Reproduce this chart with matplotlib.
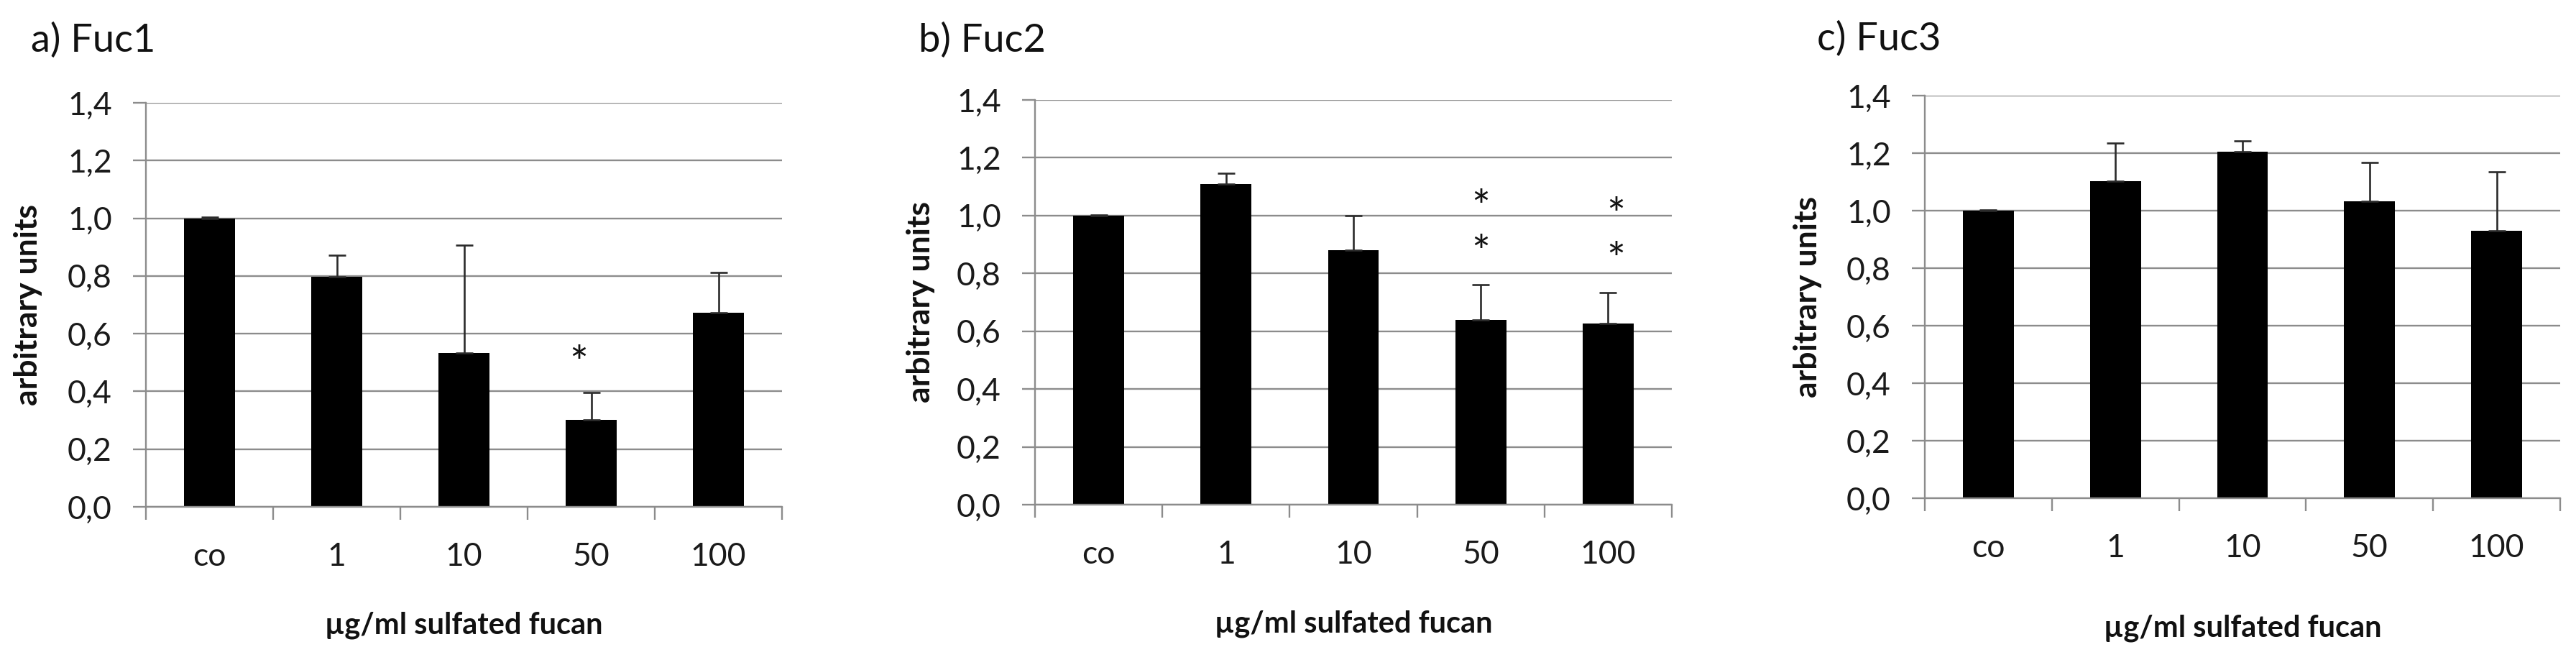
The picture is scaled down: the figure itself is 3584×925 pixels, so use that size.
import matplotlib
matplotlib.use('Agg')
import matplotlib.pyplot as plt
import numpy as np

# ---------------- data ----------------
categories = ['co', '1', '10', '50', '100']
titles = ['a) Fuc1', 'b) Fuc2', 'c) Fuc3']

fuc1_mean = [1.000, 0.797, 0.532, 0.301, 0.672]
fuc1_err = [0.003, 0.076, 0.374, 0.096, 0.140]

fuc2_mean = [1.000, 1.109, 0.881, 0.638, 0.626]
fuc2_err = [0.003, 0.038, 0.119, 0.123, 0.108]

fuc3_mean = [1.000, 1.103, 1.204, 1.032, 0.931]
fuc3_err = [0.003, 0.132, 0.038, 0.135, 0.205]

# significance asterisks: (category index, y value)
fuc1_sig = [(3, 0.53)]
fuc2_sig = [(3, 1.059), (3, 0.903), (4, 1.034), (4, 0.878)]
fuc3_sig = []

ytick_values = [0.0, 0.2, 0.4, 0.6, 0.8, 1.0, 1.2, 1.4]
ytick_labels = ['0,0', '0,2', '0,4', '0,6', '0,8', '1,0', '1,2', '1,4']
ylabel_text = 'arbitrary units'
xlabel_text = 'µg/ml sulfated fucan'

means = [fuc1_mean, fuc2_mean, fuc3_mean]
errs = [fuc1_err, fuc2_err, fuc3_err]
sigs = [fuc1_sig, fuc2_sig, fuc3_sig]

# ---------------- layout (pixels) ----------------
W, H = 3584, 925
axes_px = [(203, 143, 1088, 705), (1440, 139, 2326, 702), (2678, 133, 3562, 693)]
title_px = [(43, 72), (1278, 72), (2528, 70)]
ylabel_x = [39, 1281, 2515]
xlabel_y = [870, 868, 874]
sig_dx = [[-0.10], [0.0, 0.0, 0.06, 0.06], []]

FONT = 'Lato'
GRID = '#8c8c8c'
plt.rcParams['font.family'] = [FONT, 'DejaVu Sans']

fig = plt.figure(figsize=(W / 100, H / 100), dpi=100)

x = np.arange(len(categories))
for i in range(3):
    l, t, r, b = axes_px[i]
    ax = fig.add_axes([l / W, 1 - b / H, (r - l) / W, (b - t) / H])
    ax.set_axisbelow(True)
    ax.bar(x, means[i], width=0.40, color='black', edgecolor='none', zorder=2)
    ax.errorbar(x, means[i], yerr=[np.zeros(len(x)), errs[i]], fmt='none',
                ecolor='#2b2b2b', elinewidth=1.9, capsize=8.5, capthick=1.9, zorder=3)
    for k, (ci, yv) in enumerate(sigs[i]):
        ax.annotate('*', xy=(ci + sig_dx[i][k], yv), xytext=(0, -24),
                    textcoords='offset points', ha='center', va='baseline',
                    fontsize=44, color='#111111', zorder=4)
    ax.set_xlim(-0.5, len(categories) - 0.5)
    ax.set_ylim(0, 1.4)
    ax.set_yticks(ytick_values)
    ax.set_yticklabels(ytick_labels)
    ax.set_xticks(x)
    ax.set_xticklabels(categories)
    ax.set_xticks(np.arange(-0.5, len(categories), 1.0), minor=True)
    ax.yaxis.grid(True, color=GRID, linewidth=1.7)
    for s in ['top', 'right']:
        ax.spines[s].set_visible(False)
    for s in ['left', 'bottom']:
        ax.spines[s].set_color(GRID)
        ax.spines[s].set_linewidth(1.7)
    ax.tick_params(axis='y', length=13, width=1.7, color=GRID, pad=21,
                   labelsize=32, labelcolor='#1a1a1a')
    ax.tick_params(axis='x', which='major', length=0, pad=35,
                   labelsize=32, labelcolor='#1a1a1a')
    ax.tick_params(axis='x', which='minor', length=13, width=1.7, color=GRID)

    tx, ty = title_px[i]
    fig.text(tx / W, 1 - ty / H, titles[i], ha='left', va='baseline',
             fontsize=39, color='#111111')
    fig.text(ylabel_x[i] / W, 1 - ((t + b) / 2) / H, ylabel_text, rotation=90,
             ha='center', va='center', fontsize=32, fontweight='bold', color='#111111')
    fig.text(((l + r) / 2) / W, 1 - xlabel_y[i] / H, xlabel_text, ha='center',
             va='center', fontsize=30, fontweight='bold', color='#111111')

fig.savefig('out.png', dpi=100, facecolor='white')
